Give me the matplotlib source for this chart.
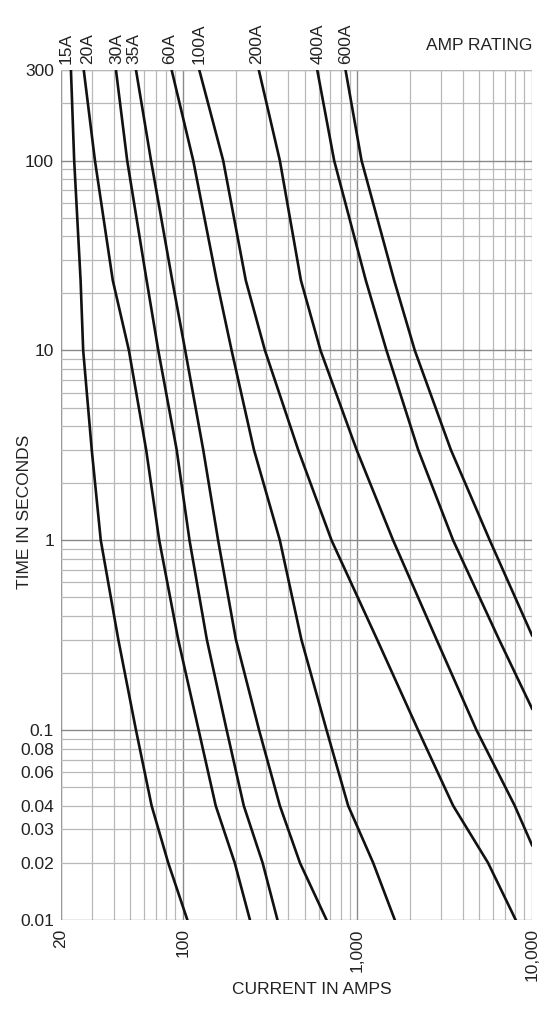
#
# fuse_curves.py - time/current curves for the fuse ratings
#
import matplotlib
matplotlib.use("Agg")
import matplotlib.pyplot as plt
from matplotlib.ticker import FixedLocator, NullFormatter

# time points (seconds) the curves were read at
times = [300, 100, 23.4, 10, 3, 1, 0.3, 0.1, 0.04, 0.02, 0.01]

ratings = ["15A", "20A", "30A", "35A", "60A", "100A", "200A", "400A", "600A"]

# current (amps) for each rating at the times above, None = off the chart
amps_15 = [22.8, 23.8, 25.9, 26.8, 30.0, 33.8, 42.6, 53.8, 66.1, 82.3, 106]
amps_20 = [27.0, 31.3, 39.6, 49.0, 61.5, 73.1, 93.9, 123, 154, 198, 242]
amps_30 = [41.3, 47.9, 61.9, 72.2, 92.0, 109, 137, 178, 223, 286, 348]
amps_35 = [53.8, 65.6, 86.8, 103, 130.6, 159, 201, 273, 359, 468, 665]
amps_60 = [86.1, 114.5, 156, 190, 255, 359, 477, 665, 884, 1230, 1637]
amps_100 = [124, 170, 229, 295, 457, 710, 1296, 2226, 3532, 5600, 8072]
amps_200 = [272, 359, 474, 614, 988, 1600, 2838, 4808, 7962, None, None]
amps_400 = [588, 735, 1116, 1466, 2226, 3532, 6476, None, None, None, None]
amps_600 = [854, 1055, 1622, 2130, 3426, 5728, None, None, None, None, None]

# where the curves leave the right edge of the chart
edge_amps = [None, None, None, None, None, None, 10000, 10000, 10000]
edge_times = [None, None, None, None, None, None, 0.0248, 0.13, 0.316]

y_ticks = [0.01, 0.02, 0.03, 0.04, 0.06, 0.08, 0.1, 1, 10, 100, 300]
y_tick_labels = ["0.01", "0.02", "0.03", "0.04", "0.06", "0.08", "0.1", "1", "10", "100", "300"]
x_ticks = [20, 100, 1000, 10000]
x_tick_labels = ["20", "100", "1,000", "10,000"]

# sideways nudge (pixels) of each rating label from the top of its curve
label_nudge = [-5, 4, 1, -2, -2, 0, -2, 1, 0]


def main():
    plt.rcParams["font.family"] = ["Liberation Sans", "DejaVu Sans"]
    fig = plt.figure(figsize=(5.55, 10.09), dpi=100)
    ax = fig.add_axes([61 / 555, 89 / 1009, 471 / 555, 850 / 1009])
    ax.set_xscale("log")
    ax.set_yscale("log")
    ax.set_xlim(20, 10000)
    ax.set_ylim(0.01, 300)

    draw_grid(ax)

    all_amps = [amps_15, amps_20, amps_30, amps_35, amps_60,
                amps_100, amps_200, amps_400, amps_600]
    for i, amps in enumerate(all_amps):
        xs = [a for a in amps if a is not None]
        ys = [t for a, t in zip(amps, times) if a is not None]
        if edge_amps[i] is not None:
            xs.append(edge_amps[i])
            ys.append(edge_times[i])
        ax.plot(xs, ys, color="#111111", lw=1.9, solid_joinstyle="round", zorder=3)
        ax.annotate(ratings[i], xy=(xs[0], 300), xytext=(label_nudge[i], 6),
                    textcoords="offset pixels", rotation=90, ha="center",
                    va="bottom", fontsize=12.5, color="#222222",
                    annotation_clip=False)

    ax.text(1.0, 1.02, "AMP RATING", transform=ax.transAxes, ha="right",
            va="bottom", fontsize=12.5, color="#222222")

    ax.yaxis.set_major_locator(FixedLocator(y_ticks))
    ax.set_yticklabels(y_tick_labels)
    ax.yaxis.set_minor_formatter(NullFormatter())
    ax.xaxis.set_major_locator(FixedLocator(x_ticks))
    ax.set_xticklabels(x_tick_labels, rotation=90)
    ax.xaxis.set_minor_formatter(NullFormatter())
    ax.tick_params(which="both", length=0, labelsize=12.5, labelcolor="#222222")
    ax.tick_params(axis="y", pad=5)
    ax.tick_params(axis="x", pad=6)

    for s in ax.spines.values():
        s.set_visible(False)

    fig.text(312 / 555, 1 - 990 / 1009, "CURRENT IN AMPS", ha="center",
             va="center", fontsize=12.5, color="#222222")
    fig.text(25 / 555, 1 - 512 / 1009, "TIME IN SECONDS", ha="center",
             va="center", rotation=90, fontsize=12.5, color="#222222")

    fig.savefig("out.png", dpi=100)


def draw_grid(ax):
    # light lines for every 2..9 step, darker for the decades
    for dec in [10, 100, 1000]:
        for m in range(2, 10):
            v = dec * m
            if 20 <= v <= 10000:
                ax.axvline(v, color="#b8b8b8", lw=0.9, zorder=1)
    for v in [100, 1000]:
        ax.axvline(v, color="#8a8a8a", lw=1.0, zorder=1)
    ax.axvline(20, color="#9a9a9a", lw=1.0, zorder=1)
    ax.axvline(10000, color="#b8b8b8", lw=1.0, zorder=1)

    for dec in [0.01, 0.1, 1, 10, 100]:
        for m in range(2, 10):
            v = dec * m
            if v <= 300:
                ax.axhline(v, color="#b8b8b8", lw=0.9, zorder=1)
    for v in [0.1, 1, 10, 100]:
        ax.axhline(v, color="#8a8a8a", lw=1.0, zorder=1)
    ax.axhline(0.01, color="#9a9a9a", lw=1.0, zorder=1)
    ax.axhline(300, color="#b8b8b8", lw=1.0, zorder=1)


if __name__ == "__main__":
    main()
